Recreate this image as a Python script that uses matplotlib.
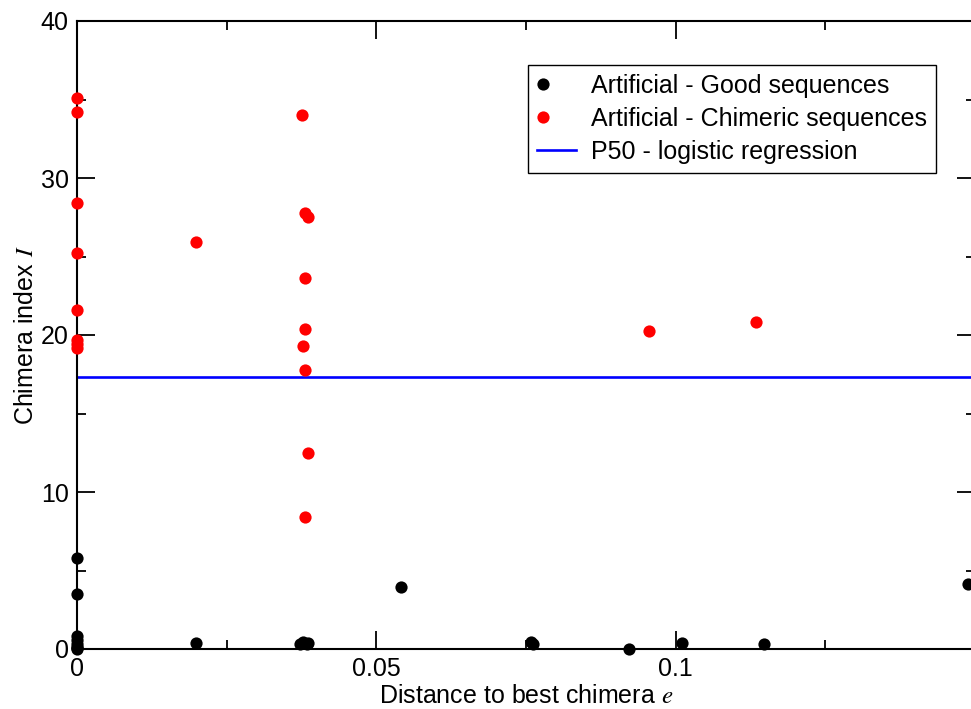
import numpy as np
import matplotlib.pyplot as plt
from matplotlib.legend_handler import HandlerLine2D

plt.rcParams['font.family'] = ['Liberation Sans', 'DejaVu Sans']
plt.rcParams['mathtext.fontset'] = 'stix'

# artificial good sequences (black)
good_x = [0, 0, 0, 0, 0, 0, 0, 0,
          0.0198, 0.0372, 0.0378, 0.0384, 0.0386,
          0.0541, 0.0759, 0.0761, 0.0922, 0.1010, 0.1147, 0.1488]
good_y = [5.78, 3.52, 0.8, 0.6, 0.35, 0.15, 0.05, 0.0,
          0.4, 0.35, 0.45, 0.3, 0.4,
          3.95, 0.45, 0.3, 0.0, 0.4, 0.34, 4.16]

# artificial chimeric sequences (red)
chim_x = [0, 0, 0, 0, 0, 0, 0, 0,
          0.0198, 0.0375, 0.0381, 0.0386, 0.0381, 0.0381, 0.0377,
          0.0381, 0.0386, 0.0381, 0.0956, 0.1134]
chim_y = [35.07, 34.2, 28.4, 25.2, 21.6, 19.7, 19.45, 19.2,
          25.94, 34.0, 27.8, 27.5, 23.6, 20.4, 19.3,
          17.8, 12.5, 8.4, 20.25, 20.8]

p50 = 17.34
x_range = [0, 0.15]


class LeftMarker(HandlerLine2D):
    # put the single legend marker near the left end of the handle
    def get_xdata(self, legend, xdescent, ydescent, width, height, fontsize):
        x0 = -xdescent + 3
        return [x0, x0 + 2], [x0 + 1]


fig = plt.figure(figsize=(9.71, 7.09), dpi=100)
ax = fig.add_axes([77/971, 60/709, 898/971, 628/709])

blue, = ax.plot(x_range, [p50, p50], color='#0000ff', lw=1.9, label='P50 - logistic regression', zorder=2)
g, = ax.plot(good_x, good_y, 'o', color='black', ms=8.8, mew=0, clip_on=False, zorder=3,
             label='Artificial - Good sequences')
c, = ax.plot(chim_x, chim_y, 'o', color='#ff0000', ms=8.8, mew=0, clip_on=False, zorder=4,
             label='Artificial - Chimeric sequences')

ax.set_xlim(0, 0.15)
ax.set_ylim(0, 40)
ax.set_xticks([0, 0.05, 0.1])
ax.set_xticklabels(['0', '0.05', '0.1'])
ax.set_xticks([0.025, 0.075, 0.125], minor=True)
ax.set_yticks([0, 10, 20, 30, 40])
ax.set_yticks([5, 15, 25, 35], minor=True)
ax.tick_params(which='both', direction='in', top=True, right=True, labelsize=18, width=1.3, pad=6)
ax.tick_params(which='major', length=13)
ax.tick_params(which='minor', length=6.5)
for s in ax.spines.values():
    s.set_linewidth(1.5)

ax.set_xlabel('Distance to best chimera $\\mathit{e}$', fontsize=18, labelpad=2)
ax.set_ylabel('Chimera index $\\mathit{I}$', fontsize=18, labelpad=2)

leg = ax.legend(handles=[g, c, blue], loc='upper right',
                bbox_to_anchor=(936/971, 1 - 65/709), bbox_transform=fig.transFigure,
                fontsize=18, frameon=True, fancybox=False, framealpha=1,
                edgecolor='black', handlelength=1.55, handletextpad=0.6,
                borderpad=0.36, labelspacing=0.36, borderaxespad=0,
                handler_map={g: LeftMarker(numpoints=1), c: LeftMarker(numpoints=1)})
leg.get_frame().set_linewidth(1.0)

fig.savefig('out.png', dpi=100)
